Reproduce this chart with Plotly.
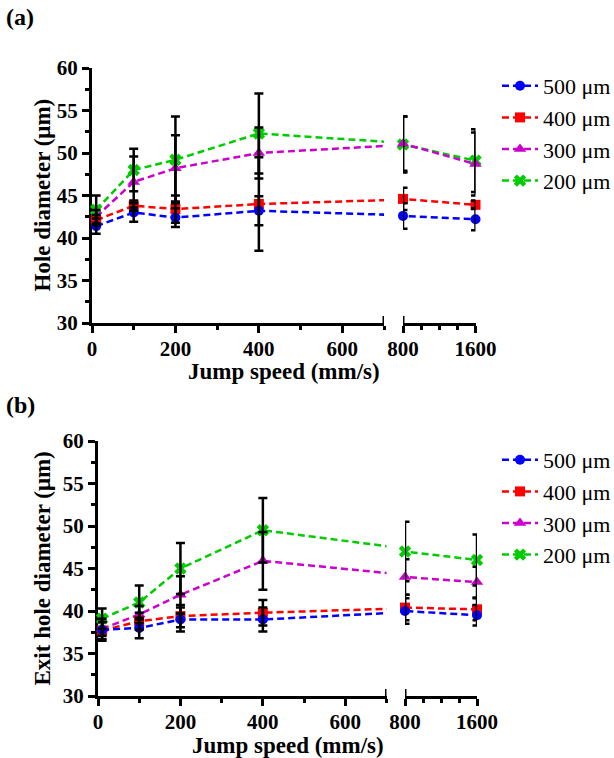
import plotly.graph_objects as go

# ---- data -------------------------------------------------------------
speed = [10, 100, 200, 400, 800, 1600]          # jump speed, mm/s
series_labels = ["500 μm", "400 μm", "300 μm", "200 μm"]

# (a) hole diameter, mean and standard deviation (μm)
hole_500 = [41.4, 43.0, 42.4, 43.2, 42.6, 42.2]
hole_500_sd = [0.9, 1.1, 1.1, 1.7, 1.5, 1.3]
hole_400 = [42.1, 43.8, 43.4, 44.0, 44.6, 43.9]
hole_400_sd = [0.6, 0.6, 1.6, 5.5, 1.3, 0.5]
hole_300 = [42.5, 46.6, 48.2, 50.0, 51.1, 48.7]
hole_300_sd = [0.8, 3.0, 3.9, 3.0, 3.2, 3.7]
hole_200 = [43.3, 48.0, 49.2, 52.3, 51.0, 49.1]
hole_200_sd = [1.7, 2.5, 5.1, 4.7, 3.3, 3.7]

# (b) exit hole diameter, mean and standard deviation (μm)
exit_500 = [37.8, 38.0, 39.0, 39.0, 40.0, 39.5]
exit_500_sd = [1.3, 1.2, 1.4, 1.4, 1.5, 1.2]
exit_400 = [37.7, 38.8, 39.4, 39.8, 40.4, 40.2]
exit_400_sd = [1.0, 1.0, 1.3, 1.5, 1.5, 1.3]
exit_300 = [37.9, 39.6, 41.9, 45.9, 44.0, 43.4]
exit_300_sd = [0.8, 1.0, 2.2, 3.4, 2.1, 1.8]
exit_200 = [39.1, 41.0, 45.0, 49.5, 47.0, 46.0]
exit_200_sd = [1.2, 2.0, 3.0, 3.8, 3.5, 3.0]

y_ticks = [30, 35, 40, 45, 50, 55, 60]
x_ticks_low = [0, 200, 400, 600]
x_ticks_high = [800, 1600]

# ---- styling -----------------------------------------------------------
W, H = 614, 758
SERIF = "Liberation Serif"
colors = ["#0000ff", "#ff0000", "#cc00cc", "#00cc00"]
symbols = ["circle", "square", "triangle-up", "x"]
sizes = [10, 10, 11, 11]


def fx(px):
    return px / W


def fy(py):
    return 1 - py / H


fig = go.Figure()

panels = [
    dict(data=[(hole_500, hole_500_sd), (hole_400, hole_400_sd),
               (hole_300, hole_300_sd), (hole_200, hole_200_sd)],
         axes=[("x", "y"), ("x2", "y")], legend="legend"),
    dict(data=[(exit_500, exit_500_sd), (exit_400, exit_400_sd),
               (exit_300, exit_300_sd), (exit_200, exit_200_sd)],
         axes=[("x3", "y2"), ("x4", "y2")], legend="legend2"),
]

for panel in panels:
    # dashed lines and markers; the thinnest series is drawn last (on top)
    for i in [3, 2, 1, 0]:
        mean, sd = panel["data"][i]
        for seg, (xa, ya) in enumerate(panel["axes"]):
            fig.add_trace(go.Scatter(
                x=speed, y=mean,
                mode="lines+markers",
                line=dict(color=colors[i], width=2.5, dash="7px,4px"),
                marker=dict(symbol=symbols[i], size=sizes[i], color=colors[i],
                            line=dict(width=0)),
                cliponaxis=False,
                name=series_labels[i],
                xaxis=xa, yaxis=ya,
                legend=panel["legend"],
                showlegend=(seg == 0),
                hoverinfo="skip",
            ))
    # black SD error bars drawn above the markers
    for i in [3, 2, 1, 0]:
        mean, sd = panel["data"][i]
        for xa, ya in panel["axes"]:
            fig.add_trace(go.Scatter(
                x=speed, y=mean,
                mode="markers",
                marker=dict(size=2, opacity=0, color="black"),
                error_y=dict(type="data", array=sd, visible=True,
                             color="black", thickness=2.5, width=4.5),
                cliponaxis=False,
                xaxis=xa, yaxis=ya,
                showlegend=False,
                hoverinfo="skip",
            ))

tick_font = dict(family=SERIF, size=21, color="black", weight="bold")
axis_common = dict(showline=True, linecolor="black", linewidth=3,
                   ticks="outside", ticklen=7, tickwidth=3, tickcolor="black",
                   showgrid=False, zeroline=False, tickfont=tick_font,
                   layer="below traces")
minor_common = dict(ticks="outside", ticklen=4, tickwidth=3, tickcolor="black")


def x_low(domain, anchor):
    return dict(axis_common, domain=domain, anchor=anchor, range=[0, 700],
                tickmode="array", tickvals=x_ticks_low, ticklabelstandoff=-2,
                minor=dict(minor_common, tickmode="linear", tick0=0, dtick=100))


def x_high(domain, anchor):
    return dict(axis_common, domain=domain, anchor=anchor, range=[800, 1600],
                tickmode="array", tickvals=x_ticks_high, ticklabelstandoff=-2,
                minor=dict(minor_common, tickmode="array",
                           tickvals=[1000, 1200, 1400]))


def y_axis(domain, anchor):
    return dict(axis_common, domain=domain, anchor=anchor, range=[30, 60],
                tickmode="array", tickvals=y_ticks,
                minor=dict(minor_common, tickmode="linear", tick0=30, dtick=2.5))


legend_font = dict(family=SERIF, size=22, color="black", weight="normal")

fig.update_layout(
    width=W, height=H,
    font=dict(family=SERIF, color="black"),
    margin=dict(l=0, r=0, t=0, b=0, autoexpand=False),
    paper_bgcolor="white", plot_bgcolor="white",
    xaxis=x_low([fx(92), fx(384)], "y"),
    xaxis2=x_high([fx(403), fx(475.5)], "y"),
    yaxis=y_axis([fy(323), fy(68)], "x"),
    xaxis3=x_low([fx(98), fx(386.5)], "y2"),
    xaxis4=x_high([fx(405), fx(477)], "y2"),
    yaxis2=y_axis([fy(696), fy(441)], "x3"),
    legend=dict(x=fx(497), y=fy(65), xanchor="left", yanchor="top",
                font=legend_font, bgcolor="rgba(0,0,0,0)",
                traceorder="reversed", itemwidth=36),
    legend2=dict(x=fx(497), y=fy(439), xanchor="left", yanchor="top",
                 font=legend_font, bgcolor="rgba(0,0,0,0)",
                 traceorder="reversed", itemwidth=36),
)

# axis-break markers at the end of the low segment and start of the high one
for xref, yref, xv in [("x", "y", 700), ("x2", "y", 800),
                       ("x3", "y2", 700), ("x4", "y2", 800)]:
    fig.add_shape(type="line", xref=xref, yref=yref, x0=xv, x1=xv,
                  ysizemode="pixel", yanchor=30, y0=-7, y1=7,
                  line=dict(color="black", width=3))

title_font = dict(family=SERIF, size=23, color="black", weight="bold")
label_font = dict(family=SERIF, size=24, color="black", weight="bold")
annotations = [
    dict(text="(a)", x=fx(4), y=fy(17), xanchor="left", yanchor="middle",
         font=label_font),
    dict(text="(b)", x=fx(4), y=fy(405), xanchor="left", yanchor="middle",
         font=label_font),
    dict(text="Hole diameter (μm)", x=fx(42), y=fy(195.5), textangle=-90,
         xanchor="center", yanchor="middle", font=title_font),
    dict(text="Jump speed (mm/s)", x=fx(284), y=fy(371),
         xanchor="center", yanchor="middle", font=title_font),
    dict(text="Exit hole diameter (μm)", x=fx(42), y=fy(568.5), textangle=-90,
         xanchor="center", yanchor="middle", font=title_font),
    dict(text="Jump speed (mm/s)", x=fx(287.5), y=fy(745),
         xanchor="center", yanchor="middle", font=title_font),
]
for a in annotations:
    fig.add_annotation(xref="paper", yref="paper", showarrow=False, **a)

fig.write_html("out.html")
